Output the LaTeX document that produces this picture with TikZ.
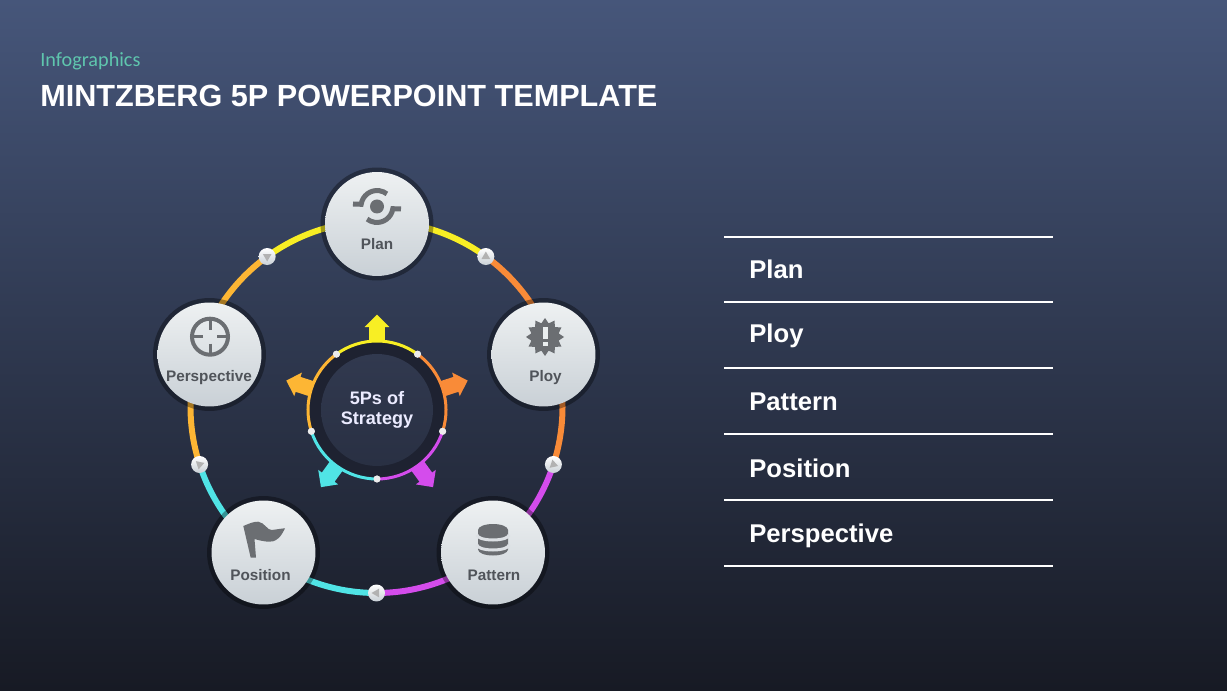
\documentclass[tikz,border=0pt]{standalone}
\usepackage{fontspec}
\setmainfont{Liberation Sans}
\newfontfamily\infofont{Carlito}
\usetikzlibrary{shapes.geometric,shapes.arrows,backgrounds}

\definecolor{bgtop}{HTML}{46567A}
\definecolor{bgmid}{HTML}{252A3E}
\definecolor{bgbottom}{HTML}{171A24}
\definecolor{ringyellow}{HTML}{F8EE24}
\definecolor{ringorange}{HTML}{F98B38}
\definecolor{ringpurple}{HTML}{D44CEC}
\definecolor{ringcyan}{HTML}{50E4E6}
\definecolor{ringamber}{HTML}{FDB634}
\definecolor{icongray}{HTML}{6B6E72}
\definecolor{labelgray}{HTML}{50545A}
\definecolor{circletop}{HTML}{EEF1F2}
\definecolor{circlebottom}{HTML}{C9D0D6}
\definecolor{disctop}{HTML}{31394F}
\definecolor{discbottom}{HTML}{293043}
\definecolor{infoteal}{HTML}{5FC6AE}

\tikzset{
    bigcircle/.style={circle, minimum size=2.08cm, inner sep=0pt, top color=circletop, bottom color=circlebottom,
        preaction={draw=black, draw opacity=0.35, line width=0.18cm}},
    circlabel/.style={anchor=base, inner sep=0pt, text=labelgray, font=\fontsize{8.7}{10}\selectfont\bfseries},
    ringdot/.style={circle, minimum size=0.34cm, inner sep=0pt, top color=white, bottom color=circlebottom},
    ringmark/.style={regular polygon, regular polygon sides=3, minimum size=0.2cm, inner sep=0pt, fill=gray!60},
    smalldot/.style={circle, minimum size=0.14cm, inner sep=0pt, fill=white!85!gray},
    ringline/.style={line width=0.12cm},
    innerline/.style={line width=0.06cm},
    outarrow/.style={single arrow, anchor=tail, inner xsep=0pt, inner ysep=0.15cm, minimum height=0.58cm, minimum width=0.48cm,
        single arrow head extend=0.09cm},
    listlabel/.style={anchor=base west, inner sep=0pt, text=white, font=\fontsize{14.6}{17}\selectfont\bfseries},
    iconline/.style={draw=icongray, line width=0.1cm},
}

\begin{document}
\begin{tikzpicture}[x=0.02cm, y=0.02cm]
    \useasboundingbox (0,0) rectangle (1227,690);

    % ===== background =====
    \begin{scope}[on background layer]
        \shade[top color=bgtop, middle color=bgmid, bottom color=bgbottom] (0,0) rectangle (1227,690);
    \end{scope}

    % ===== title =====
    \node[anchor=base west, inner sep=0pt, text=infoteal, font=\fontsize{11.5}{13}\selectfont\infofont] (subtitle) at (40,623.5) {Infographics};
    \node[anchor=base west, inner sep=0pt, text=white, font=\fontsize{17.43}{21}\selectfont\bfseries] (title) at (40,583) {MINTZBERG 5P POWERPOINT TEMPLATE};

    % ===== outer ring =====
    \coordinate (ringcenter) at (376.5,283);
    \foreach \dotname/\a/\m in {dotone/54/90, dottwo/-18/-18, dotthree/-90/180, dotfour/-162/18, dotfive/126/-90} {
        \node[ringdot] (\dotname) at ([shift={(\a:186)}]ringcenter) {};
        \node[ringmark, rotate=\m-90] (\dotname mark) at (\dotname.center) {};
    }
    \begin{scope}[on background layer]
        \foreach \dotname/\a/\cw/\ccw in {dotone/54/ringorange/ringyellow, dottwo/-18/ringpurple/ringorange,
            dotthree/-90/ringcyan/ringpurple, dotfour/-162/ringamber/ringcyan, dotfive/126/ringyellow/ringamber} {
            \draw[ringline, \cw] (\dotname.center) arc[start angle=\a, delta angle=-36, radius=186];
            \draw[ringline, \ccw] (\dotname.center) arc[start angle=\a, delta angle=36, radius=186];
        }
    \end{scope}

    % ===== five circles =====
    \node[bigcircle] (plan) at (377,466) {};
    \node[bigcircle] (ploy) at (543.5,335.5) {};
    \node[bigcircle] (pattern) at (493,137.5) {};
    \node[bigcircle] (position) at (263.5,137.5) {};
    \node[bigcircle] (perspective) at (209.5,335.5) {};

    \node[circlabel] (planlabel) at ([yshift=-0.52cm]plan.center) {Plan};
    \node[circlabel] (ploylabel) at ([shift={(2,-0.55cm)}]ploy.center) {Ploy};
    \node[circlabel] (patternlabel) at ([shift={(1,-0.56cm)}]pattern.center) {Pattern};
    \node[circlabel] (positionlabel) at ([shift={(-3,-0.56cm)}]position.center) {Position};
    \node[circlabel] (perspectivelabel) at ([shift={(-0.5,-0.54cm)}]perspective.center) {Perspective};

    % ===== icons =====
    % plan
    \begin{scope}[shift={(plan.center)}]
        \fill[icongray] (0,17.5) circle (7);
        \draw[iconline] (-24,20) -- (-15.8,19.7) arc[start angle=172, end angle=52, radius=16];
        \draw[iconline] (24,15) -- (15.8,15.3) arc[start angle=-8, end angle=-128, radius=16];
    \end{scope}
    % ploy
    \node[star, star points=12, star point ratio=1.35, minimum size=0.76cm, inner sep=0pt, fill=icongray] (ployicon) at ([shift={(1.5,17.5)}]ploy.center) {};
    \fill[circletop!90!circlebottom] ([shift={(-2.5,-2)}]ployicon.center) rectangle ([shift={(2.5,10)}]ployicon.center);
    \fill[circletop!90!circlebottom] ([shift={(-2.5,-9)}]ployicon.center) rectangle ([shift={(2.5,-5)}]ployicon.center);
    % pattern
    \begin{scope}[shift={(pattern.center)}]
        \fill[icongray] (0,22.5) ellipse[x radius=15, y radius=6];
        \fill[icongray] (-15,3) arc[start angle=180, end angle=360, x radius=15, y radius=6] -- (15,22.5) -- (-15,22.5) -- cycle;
        \draw[circletop!50!circlebottom, line width=0.06cm] (-16,17.5) arc[start angle=180, end angle=360, x radius=16, y radius=5];
        \draw[circletop!50!circlebottom, line width=0.06cm] (-16,7.5) arc[start angle=180, end angle=360, x radius=16, y radius=5];
    \end{scope}
    % position
    \begin{scope}[shift={(position.center)}]
        \fill[icongray] (-20.2,26.5) .. controls (-14,29) and (-10,31) .. (-5.2,30.8)
            .. controls (1,30) and (4,22) .. (8.2,22.5) .. controls (13,23) and (18,24) .. (21.5,24.2)
            .. controls (19,19) and (17,16) .. (14.8,14.2) .. controls (11,11) and (8,10.5) .. (4.8,10.8)
            .. controls (1,11) and (-4,12) .. (-9,13.5) -- (-7.5,-5.2) -- (-12.8,-5.2) -- cycle;
    \end{scope}
    % perspective
    \begin{scope}[shift={(perspective.center)}]
        \draw[iconline, line width=0.08cm] (0.5,17.8) circle (18);
        \foreach \a in {0,90,180,270} {
            \draw[iconline, line width=0.06cm] ([shift={(\a:7)}]0.5,17.8) -- ([shift={(\a:18)}]0.5,17.8);
        }
    \end{scope}

    % ===== center =====
    \coordinate (innercenter) at (377,280);
    \foreach \c/\a in {ringyellow/90, ringorange/18, ringpurple/-54, ringcyan/-126, ringamber/162} {
        \node[outarrow, fill=\c, rotate=\a] (arrow\a) at ([shift={(\a:66)}]innercenter) {};
    }
    \fill[bgmid!50!bgbottom] (innercenter) circle (68);
    \node[circle, minimum size=2.24cm, inner sep=0pt, top color=disctop, bottom color=discbottom,
        text=white!92!blue, align=center,
        font=\fontsize{10.3}{11.4}\selectfont\bfseries] (strategy) at (innercenter) {5Ps of\\Strategy};

    \foreach \dotname/\a/\c in {innerone/54/ringorange, innertwo/-18/ringpurple, innerthree/-90/ringcyan, innerfour/-162/ringamber, innerfive/126/ringyellow} {
        \node[smalldot] (\dotname) at ([shift={(\a:69)}]innercenter) {};
    }
    \foreach \dotname/\a/\c in {innerone/54/ringorange, innertwo/-18/ringpurple, innerthree/-90/ringcyan, innerfour/-162/ringamber, innerfive/126/ringyellow} {
        \draw[innerline, \c] (\dotname.center) arc[start angle=\a, delta angle=-72, radius=69];
    }
    \foreach \dotname/\a in {innerone/54, innertwo/-18, innerthree/-90, innerfour/-162, innerfive/126} {
        \fill[white!85!gray] (\dotname.center) circle (3.5);
    }

    % ===== list on the right =====
    \foreach \y in {453,387.5,322,256,190,124} {
        \draw[white, line width=0.04cm] (724,\y) -- (1053,\y);
    }
    \foreach \name/\t/\y in {one/Plan/411, two/Ploy/347, three/Pattern/279, four/Position/213, five/Perspective/148} {
        \node[listlabel] (list\name) at (749,\y) {\t};
    }
\end{tikzpicture}
\end{document}
